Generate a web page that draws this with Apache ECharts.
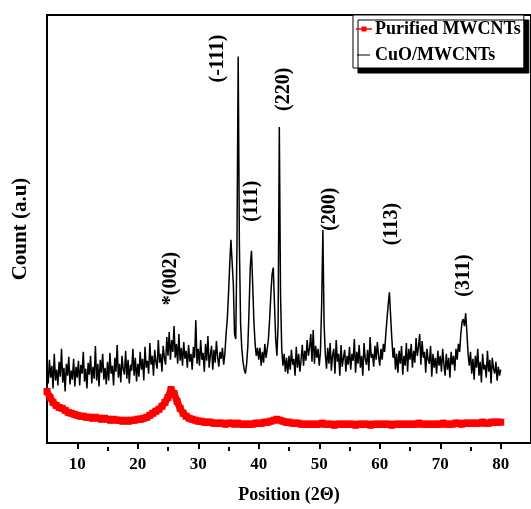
<!DOCTYPE html>
<html>
<head>
<meta charset="utf-8">
<script src="https://cdn.jsdelivr.net/npm/echarts@6/dist/echarts.min.js"></script>
<style>
    html, body { margin: 0; padding: 0; background: #fff; }
    #chart { width: 531px; height: 509px; }
</style>
</head>
<body>
<div id="chart"></div>
<script>
// CuO/MWCNTs scan, 5..80 deg, step 0.2 (heights in a.u.)
var cuoStart = 5, cuoStep = 0.2;
var cuoCounts = [
    72, 60, 84, 66, 78, 55, 90, 63, 74, 58, 82, 67, 95, 61, 76, 52, 80, 68, 87, 59, 73, 64, 85, 57, 77,
    66, 83, 58, 79, 70, 92, 62, 75, 55, 81, 69, 88, 60, 77, 65, 98, 63, 80, 57, 84, 71, 90, 64, 76, 59,
    82, 63, 91, 70, 78, 58, 86, 72, 99, 66, 80, 61, 88, 74, 69, 93, 65, 84, 60, 79, 73, 95, 68, 86, 62,
    80, 67, 92, 74, 85, 63, 97, 76, 83, 70, 101, 79, 88, 68, 94, 82, 75, 104, 81, 90, 72, 98, 86, 79, 107,
    88, 112, 84, 104, 92, 118, 86, 100, 80, 110, 83, 96, 78, 102, 85, 93, 76, 99, 82, 90, 74, 97, 86, 124, 80,
    95, 78, 104, 84, 91, 72, 100, 83, 108, 76, 89, 98, 74, 94, 81, 103, 87, 77, 92, 85, 96, 79, 90, 110, 125,
    150, 180, 205, 207, 160, 110, 105, 200, 390, 200, 120, 95, 82, 74, 70, 80, 98, 135, 178, 194, 160, 122, 100, 88, 96,
    84, 96, 78, 92, 81, 100, 86, 95, 105, 125, 150, 170, 177, 140, 105, 88, 120, 319, 150, 95, 78, 90, 72, 86, 70,
    88, 74, 94, 79, 85, 68, 97, 76, 90, 72, 84, 99, 78, 93, 83, 104, 88, 96, 110, 82, 114, 80, 98, 86, 95,
    78, 92, 140, 215, 120, 90, 75, 96, 80, 101, 73, 89, 95, 70, 104, 82, 90, 68, 99, 77, 86, 94, 72, 88, 79,
    97, 74, 90, 83, 105, 71, 92, 80, 99, 76, 88, 68, 101, 85, 79, 94, 73, 107, 86, 90, 77, 98, 84, 102, 88,
    78, 95, 84, 100, 92, 110, 125, 140, 152, 128, 105, 86, 96, 74, 90, 71, 93, 80, 98, 69, 88, 78, 101, 72, 95,
    84, 100, 76, 93, 81, 106, 88, 97, 110, 79, 103, 86, 92, 71, 95, 84, 80, 98, 67, 90, 76, 86, 70, 93, 78,
    88, 72, 95, 80, 68, 90, 74, 86, 66, 92, 79, 88, 73, 95, 84, 100, 92, 110, 122, 125, 118, 131, 112, 90, 78,
    92, 70, 85, 64, 88, 76, 95, 68, 82, 61, 90, 74, 79, 66, 93, 72, 84, 60, 86, 75, 70, 82, 63, 77, 68,
    74
];

// Purified MWCNTs scan, 5..80 deg, step 0.5
var mwStart = 5, mwStep = 0.5;
var mwCounts = [
    52, 46, 41, 38, 36, 35, 33, 31, 30, 29,
    28, 27, 27, 26, 26, 25, 26, 25, 24, 25,
    24, 23, 24, 23, 23, 22, 23, 22, 23, 23,
    24, 24, 25, 26, 28, 30, 32, 34, 37, 41,
    46, 54, 50, 42, 35, 30, 27, 25, 24, 23,
    22, 22, 21, 21, 21, 20, 20, 20, 20, 19,
    20, 20, 19, 20, 19, 19, 19, 19, 19, 20,
    20, 20, 21, 21, 22, 23, 24, 23, 22, 21,
    21, 20, 20, 20, 19, 19, 19, 19, 19, 19,
    19, 20, 19, 19, 19, 18, 19, 19, 19, 19,
    19, 19, 18, 19, 19, 19, 19, 18, 19, 19,
    19, 19, 19, 19, 18, 19, 19, 19, 19, 19,
    19, 19, 19, 20, 19, 19, 19, 19, 19, 19,
    19, 20, 19, 19, 19, 20, 20, 19, 20, 20,
    20, 20, 20, 20, 21, 20, 20, 21, 21, 21,
    21
];

// peak labels
var peakNames = ['*(002)', '(-111)', '(111)', '(220)', '(200)', '(113)', '(311)'];
var peakX = [25.5, 33.3, 38.9, 44.2, 51.7, 62.0, 73.9];
var peakY = [166, 388, 244, 357, 236, 221, 169];

var majorTicks = [10, 20, 30, 40, 50, 60, 70, 80];
var minorTicks = [15, 25, 35, 45, 55, 65, 75];

var font = "'Liberation Serif', 'Times New Roman', serif";

var toPairs = function(start, step, arr) {
    var out = [];
    for (var i = 0; i < arr.length; i++) {
        out.push([+(start + i * step).toFixed(1), arr[i]]);
    }
    return out;
};

var peakData = [];
for (var i = 0; i < peakNames.length; i++) {
    peakData.push({ name: peakNames[i], value: [peakX[i], peakY[i]] });
}

// legend icons: red line with a square dot, short black line
var redIcon = 'path://M0,0L0,0ZM0,5.2L16,5.2L16,6.8L0,6.8ZM5.5,3.5L10.5,3.5L10.5,8.5L5.5,8.5ZM16,12L16,12Z';
var blackIcon = 'path://M0,0L0,0ZM1,5.4L14,5.4L14,6.6L1,6.6ZM16,12L16,12Z';

var gridBox = { left: 47, top: 15, width: 484, bottom: 62 };

var chart = echarts.init(document.getElementById('chart'));
chart.setOption({
    animation: false,
    grid: [{
        left: gridBox.left,
        top: gridBox.top,
        width: gridBox.width,
        bottom: gridBox.bottom,
        show: true,
        borderColor: '#000',
        borderWidth: 2,
        backgroundColor: 'transparent'
    }, {
        // same box, only carries the short ticks
        left: gridBox.left,
        top: gridBox.top,
        width: gridBox.width,
        bottom: gridBox.bottom,
        show: false
    }],
    legend: {
        data: [
            { name: 'Purified MWCNTs', icon: redIcon, itemStyle: { color: '#ff0000' } },
            { name: 'CuO/MWCNTs', icon: blackIcon, itemStyle: { color: '#000' } }
        ],
        orient: 'vertical',
        left: 353,
        top: 15,
        padding: [5, 3, 4, 3],
        itemGap: 8,
        itemWidth: 16,
        itemHeight: 12,
        backgroundColor: '#fff',
        borderColor: '#000',
        borderWidth: 1,
        shadowColor: '#000',
        shadowBlur: 0,
        shadowOffsetX: 5,
        shadowOffsetY: 5,
        textStyle: {
            fontFamily: font,
            fontWeight: 'bold',
            fontSize: 18,
            color: '#000',
            padding: [0, 0, 0, -2]
        }
    },
    xAxis: [{
        type: 'value',
        gridIndex: 0,
        min: 5,
        max: 85,
        interval: 5,
        name: 'Position (2\u0398)',
        nameLocation: 'middle',
        nameGap: 43,
        nameTextStyle: { fontFamily: font, fontWeight: 'bold', fontSize: 18, color: '#000' },
        axisLine: { onZero: false, lineStyle: { color: '#000', width: 2 } },
        axisTick: { inside: false, length: 6, customValues: majorTicks, lineStyle: { width: 2, color: '#000' } },
        axisLabel: {
            margin: 13,
            customValues: majorTicks,
            fontFamily: font,
            fontWeight: 'bold',
            fontSize: 17,
            color: '#000'
        },
        splitLine: { show: false }
    }, {
        type: 'value',
        gridIndex: 1,
        position: 'bottom',
        min: 5,
        max: 85,
        interval: 5,
        axisLine: { show: false, onZero: false },
        axisTick: { show: true, inside: false, length: 4, customValues: minorTicks, lineStyle: { width: 2, color: '#000' } },
        axisLabel: { show: false },
        splitLine: { show: false }
    }],
    yAxis: [{
        type: 'value',
        gridIndex: 0,
        min: 0,
        max: 432,
        name: 'Count (a.u)',
        nameLocation: 'middle',
        nameGap: 16,
        nameTextStyle: { fontFamily: font, fontWeight: 'bold', fontSize: 21, color: '#000' },
        axisLine: { lineStyle: { color: '#000', width: 2 } },
        axisTick: { show: false },
        axisLabel: { show: false },
        splitLine: { show: false }
    }, {
        type: 'value',
        gridIndex: 1,
        min: 0,
        max: 432,
        show: false
    }],
    series: [{
        name: 'CuO/MWCNTs',
        type: 'line',
        symbol: 'none',
        lineStyle: { color: '#000', width: 1.5 },
        itemStyle: { color: '#000' },
        data: toPairs(cuoStart, cuoStep, cuoCounts)
    }, {
        name: 'Purified MWCNTs',
        type: 'line',
        symbol: 'rect',
        symbolSize: 7,
        showSymbol: true,
        lineStyle: { color: '#ff0000', width: 7 },
        itemStyle: { color: '#ff0000' },
        data: toPairs(mwStart, mwStep, mwCounts)
    }, {
        name: 'labels',
        type: 'scatter',
        symbolSize: 0,
        silent: true,
        itemStyle: { opacity: 1 },
        label: {
            show: true,
            position: 'inside',
            rotate: 90,
            formatter: '{b}',
            fontFamily: font,
            fontWeight: 'bold',
            fontSize: 20,
            color: '#000',
            textBorderWidth: 0,
            opacity: 1
        },
        data: peakData
    }]
});
</script>
</body>
</html>
